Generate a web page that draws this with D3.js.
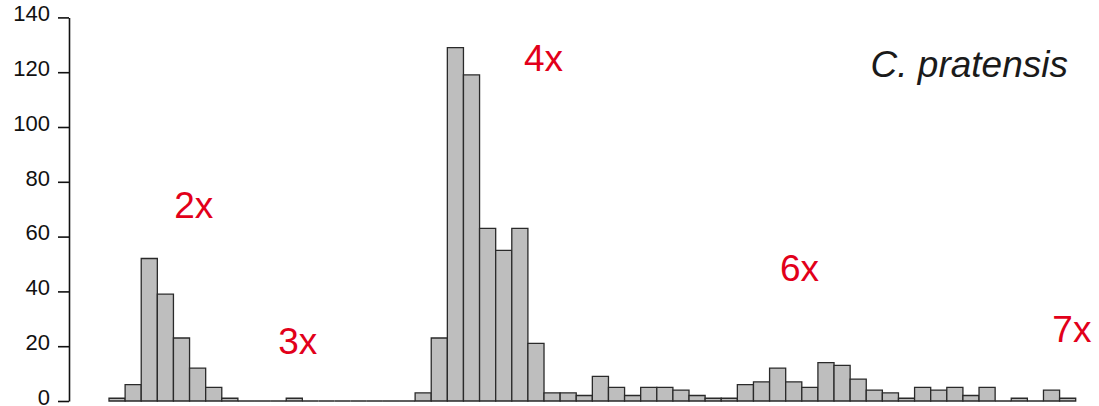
<!DOCTYPE html>
<html>
<head>
<meta charset="utf-8">
<script src="https://cdn.jsdelivr.net/npm/d3@7"></script>
<style>
  html, body { margin: 0; padding: 0; background: #fff; }
  svg { display: block; }
  text { font-family: "Liberation Sans", Arial, sans-serif; }
</style>
</head>
<body>
<svg id="chart" width="1099" height="406"></svg>
<script>
// Histogram of relative fluorescence intensity, one count per bin
const binCounts = [
  1, 6, 52, 39, 23, 12, 5, 1, 0, 0,
  0, 1, 0, 0, 0, 0, 0, 0, 0, 3,
  23, 129, 119, 63, 55, 63, 21, 3, 3, 2,
  9, 5, 2, 5, 5, 4, 2, 1, 1, 6,
  7, 12, 7, 5, 14, 13, 8, 4, 3, 1,
  5, 4, 5, 2, 5, 0, 1, 0, 4, 1
];
const yTicks = [0, 20, 40, 60, 80, 100, 120, 140];

// Ploidy level labels, anchored in data space (bin position, count)
const ploidyLabels = ["2x", "3x", "4x", "6x", "7x"];
const ploidyBin    = [4.05, 10.5, 25.75, 41.65, 58.55];
const ploidyCount  = [66.7, 17.1, 120.3, 43.8, 21.6];

const speciesName = "C. pratensis";

const svg = d3.select("#chart");

const x = d3.scaleLinear().domain([0, binCounts.length]).range([109, 1075.7]);
const y = d3.scaleLinear().domain([0, 140]).range([401, 17.4]);

// Bars drawn as closed paths so empty bins still show as a flat line
svg.append("g")
  .selectAll("path")
  .data(binCounts)
  .join("path")
  .attr("d", (d, i) => {
    const x0 = x(i), x1 = x(i + 1), y0 = y(0), y1 = y(d);
    return `M${x0},${y0}V${y1}H${x1}V${y0}Z`;
  })
  .attr("fill", "#bebebe")
  .attr("stroke", "#2a2a2a")
  .attr("stroke-width", 1.3)
  .attr("stroke-linejoin", "miter");

// Left count axis
const yAxis = d3.axisLeft(y)
  .tickValues(yTicks)
  .tickSize(11)
  .tickSizeOuter(0)
  .tickPadding(8);

const gy = svg.append("g")
  .attr("transform", "translate(69,0)")
  .call(yAxis);
gy.select(".domain").attr("stroke", "#111").attr("stroke-width", 1.6);
gy.selectAll(".tick line").attr("stroke", "#111").attr("stroke-width", 1.6);
gy.selectAll(".tick text")
  .attr("fill", "#111")
  .style("font-size", "22px")
  .attr("dy", "0.15em");

// Ploidy annotations
svg.append("g")
  .selectAll("text")
  .data(ploidyLabels)
  .join("text")
  .attr("x", (d, i) => x(ploidyBin[i]))
  .attr("y", (d, i) => y(ploidyCount[i]))
  .attr("fill", "#e2001a")
  .style("font-size", "37px")
  .text(d => d);

// Species name
svg.append("text")
  .attr("x", 1068)
  .attr("y", 77)
  .attr("text-anchor", "end")
  .attr("fill", "#1a1a1a")
  .style("font-size", "37px")
  .style("font-style", "italic")
  .text(speciesName);
</script>
</body>
</html>
